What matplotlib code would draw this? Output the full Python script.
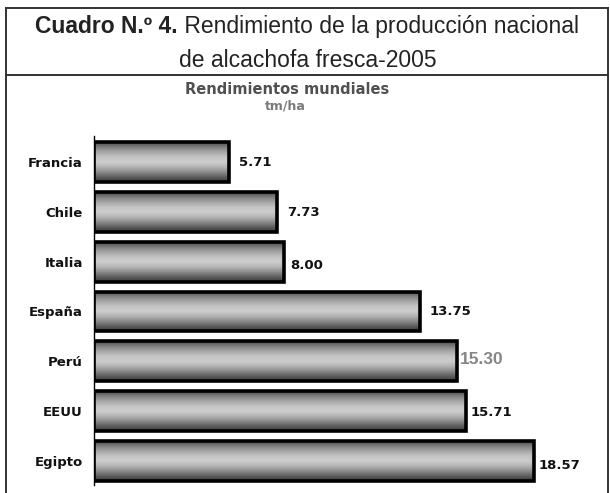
import matplotlib
matplotlib.use('Agg')
import matplotlib.pyplot as plt
import numpy as np
from matplotlib.colors import LinearSegmentedColormap
from matplotlib.lines import Line2D

countries = ['Francia', 'Chile', 'Italia', 'España', 'Perú', 'EEUU', 'Egipto']
values = [5.71, 7.73, 8.00, 13.75, 15.30, 15.71, 18.57]
value_labels = ['5.71', '7.73', '8.00', '13.75', '15.30', '15.71', '18.57']

W, H = 610, 493
fig = plt.figure(figsize=(W / 100, H / 100), dpi=100)
plt.rcParams['font.family'] = ['Liberation Sans', 'DejaVu Sans']

def fx(px):
    return px / W

def fy(py):
    return 1 - py / H

# frame
frame_kw = dict(color='#333333', linewidth=1.4, transform=fig.transFigure)
fig.add_artist(Line2D([fx(6), fx(6)], [fy(8), fy(493)], **frame_kw))
fig.add_artist(Line2D([fx(608), fx(608)], [fy(8), fy(493)], **frame_kw))
fig.add_artist(Line2D([fx(6), fx(608)], [fy(8), fy(8)], **frame_kw))
fig.add_artist(Line2D([fx(6), fx(608)], [fy(75), fy(75)], **frame_kw))

# title line 1 (mixed bold / regular), centered
TS = 16.5
renderer = fig.canvas.get_renderer()
t1 = fig.text(0, fy(33), 'Cuadro N.º 4.', fontsize=TS, fontweight='bold',
              color='#222222', va='baseline', ha='left')
t2 = fig.text(0, fy(33), ' Rendimiento de la producción nacional', fontsize=TS,
              color='#222222', va='baseline', ha='left')
w1 = t1.get_window_extent(renderer).width
w2 = t2.get_window_extent(renderer).width
start = 307 - (w1 + w2) / 2
t1.set_x(fx(start))
t2.set_x(fx(start + w1))
fig.text(fx(308), fy(67), 'de alcachofa fresca-2005', fontsize=TS,
         color='#222222', va='baseline', ha='center')

fig.text(fx(287), fy(89), 'Rendimientos mundiales', fontsize=10.5, fontweight='bold',
         color='#505050', va='center', ha='center', family='DejaVu Sans')
fig.text(fx(285), fy(106), 'tm/ha', fontsize=9, fontweight='bold',
         color='#7a7a7a', va='center', ha='center', family='DejaVu Sans')

# axes
ax = fig.add_axes([fx(94), fy(485), fx(600) - fx(94), (485 - 136) / H])
ypos = np.arange(len(countries))
bars = ax.barh(ypos, values, height=0.8, color='none', edgecolor='#000000',
               linewidth=2.6, zorder=3)

cmap = LinearSegmentedColormap.from_list(
    'cyl', ['#4a4a4a', '#7e7e7e', '#a6a6a6', '#c4c4c4', '#cdcdcd', '#b4b4b4',
            '#8c8c8c', '#5e5e5e', '#3a3a3a'])
grad = np.linspace(0, 1, 256).reshape(-1, 1)
for b in bars:
    x0, y0 = b.get_x(), b.get_y()
    w, h = b.get_width(), b.get_height()
    im = ax.imshow(grad, extent=[x0, x0 + w, y0 + h, y0], aspect='auto',
                   cmap=cmap, zorder=2, interpolation='bilinear')
    im.set_clip_path(b)

ax.set_xlim(0, 506 / 23.7)
ax.set_ylim(6.48, -0.52)

for s in ['top', 'right', 'bottom']:
    ax.spines[s].set_visible(False)
ax.spines['left'].set_color('#000000')
ax.spines['left'].set_linewidth(1.0)
ax.set_xticks([])
ax.set_yticks(ypos)
ax.set_yticklabels(countries, fontsize=9.5, fontweight='bold', color='#111111',
                   family='DejaVu Sans')
ax.tick_params(axis='y', length=0, pad=8)

# value labels
gaps = [10, 10, 7, 10, 3, 4, 4]
dys = [0.02, 0.02, 0.08, 0.0, -0.04, 0.02, 0.08]
for i, (v, lab) in enumerate(zip(values, value_labels)):
    if lab == '15.30':
        ax.annotate(lab, (v, i + dys[i]), xytext=(gaps[i], 0), textcoords='offset pixels',
                    fontsize=12.5, color='#858585', va='center', ha='left',
                    fontweight='bold')
    else:
        ax.annotate(lab, (v, i + dys[i]), xytext=(gaps[i], 0), textcoords='offset pixels',
                    fontsize=9.5, color='#111111', va='center', ha='left',
                    fontweight='bold', family='DejaVu Sans')

fig.savefig('out.png', dpi=100)
